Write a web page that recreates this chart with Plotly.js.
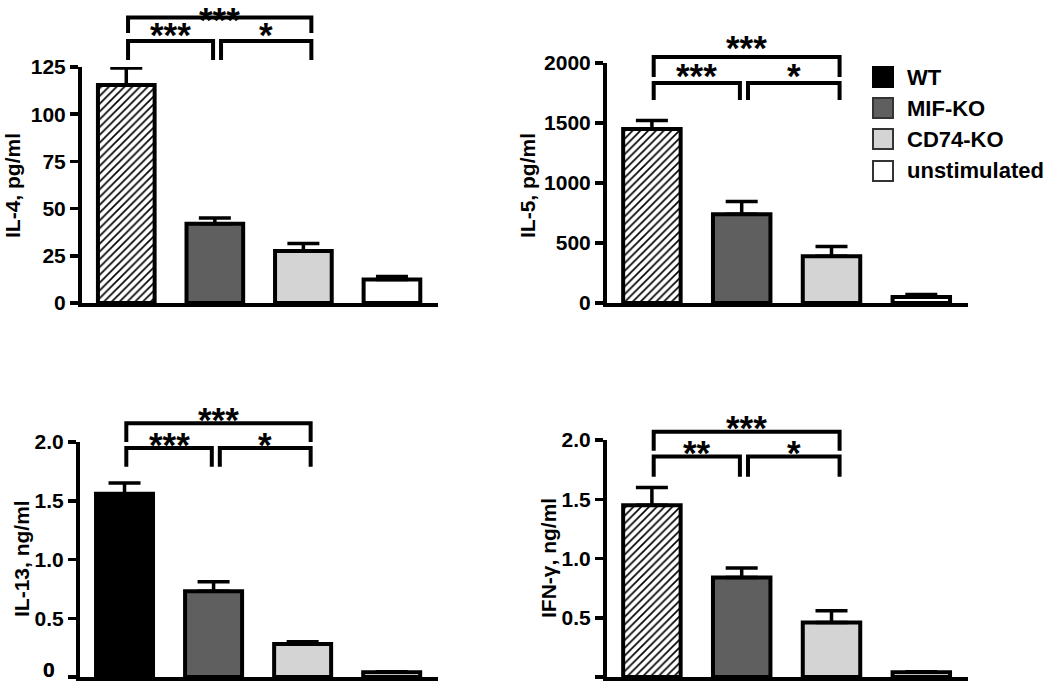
<!DOCTYPE html>
<html><head><meta charset="utf-8">
<script src="https://cdn.plot.ly/plotly-3.0.1.min.js"></script>
<style>html,body{margin:0;padding:0;background:#fff}#chart{width:1050px;height:681px}</style>
</head><body><div id="chart"></div>
<script>
// ---------- data ----------
const groups = ['WT', 'MIF-KO', 'CD74-KO', 'unstimulated'];
const groupColors = ['#000000', '#5f5f5f', '#d4d4d4', '#ffffff'];

const il4Values  = [115.5, 42, 27.5, 12.5];
const il4Errors  = [9, 3, 4, 1.5];
const il5Values  = [1450, 740, 390, 50];
const il5Errors  = [70, 105, 80, 20];
const il13Values = [1.56, 0.73, 0.28, 0.04];
const il13Errors = [0.09, 0.08, 0.02, 0.005];
const ifngValues = [1.45, 0.84, 0.46, 0.04];
const ifngErrors = [0.15, 0.08, 0.10, 0.005];

// significance: [WT vs CD74-KO, WT vs MIF-KO, MIF-KO vs CD74-KO]
const il4Sig  = ['***', '***', '*'];
const il5Sig  = ['***', '***', '*'];
const il13Sig = ['***', '***', '*'];
const ifngSig = ['***', '**', '*'];

const il4Ticks  = [0, 25, 50, 75, 100, 125];
const il5Ticks  = [0, 500, 1000, 1500, 2000];
const ngTicks   = [0, 0.5, 1.0, 1.5, 2.0];
const ngTickText = ['', '0.5', '1.0', '1.5', '2.0'];

// ---------- layout helpers ----------
const W = 1050, H = 681;
const FONT = 'Liberation Sans, Arial, sans-serif';
const XR = [-0.5, 3.52];
const py = p => 1 - p / H;   // pixel row -> paper
const pxp = p => p / W;       // pixel col -> paper

const panels = [
  {title: 'IL-4, pg/ml', values: il4Values, errors: il4Errors, sig: il4Sig, hatch: true,
   xdom: [pxp(82), pxp(438)], ydom: [py(303), py(67)], yr: [0, 125],
   tickvals: il4Ticks, ticktext: il4Ticks.map(String),
   br: {top: 151.2, topLeg: 143, low: 138.8, lowLeg: 128.7, starTop: 154.4, starLow: 146.5},
   titlePos: [12, 186]},
  {title: 'IL-5, pg/ml', values: il5Values, errors: il5Errors, sig: il5Sig, hatch: true,
   xdom: [pxp(607), pxp(968)], ydom: [py(303), py(63)], yr: [0, 2000],
   tickvals: il5Ticks, ticktext: il5Ticks.map(String),
   br: {top: 2050, topLeg: 1883, low: 1833, lowLeg: 1692, starTop: 2195, starLow: 1960},
   titlePos: [527, 186]},
  {title: 'IL-13, ng/ml', values: il13Values, errors: il13Errors, sig: il13Sig, hatch: false,
   xdom: [pxp(80), pxp(438)], ydom: [py(677), py(442)], yr: [0, 2],
   tickvals: ngTicks, ticktext: ngTickText, zeroLabel: 669,
   br: {top: 2.16, topLeg: 2.00, low: 1.95, lowLeg: 1.79, starTop: 2.26, starLow: 2.05},
   titlePos: [21, 559]},
  {title: 'IFN-γ, ng/ml', values: ifngValues, errors: ifngErrors, sig: ifngSig, hatch: true,
   xdom: [pxp(607), pxp(968)], ydom: [py(677), py(440)], yr: [0, 2],
   tickvals: ngTicks, ticktext: ngTickText, zeroLabel: 669,
   br: {top: 2.07, topLeg: 1.91, low: 1.86, lowLeg: 1.69, starTop: 2.17, starLow: 1.96},
   titlePos: [548, 558]}
];
const brX = [0.02, 0.98, 1.07, 2.09];

const traces = [];
const layout = {
  width: W, height: H, margin: {l: 0, r: 0, t: 0, b: 0},
  paper_bgcolor: '#fff', plot_bgcolor: 'rgba(0,0,0,0)',
  showlegend: false, shapes: [], annotations: [],
  font: {family: FONT, color: '#000'}
};

panels.forEach((p, i) => {
  const sfx = i === 0 ? '' : String(i + 1);
  const toPX = x => p.xdom[0] + (x - XR[0]) / (XR[1] - XR[0]) * (p.xdom[1] - p.xdom[0]);
  const toPY = y => p.ydom[0] + (y - p.yr[0]) / (p.yr[1] - p.yr[0]) * (p.ydom[1] - p.ydom[0]);

  traces.push({
    type: 'bar', x: groups.map((g, k) => k), y: p.values, width: 0.64,
    xaxis: 'x' + sfx, yaxis: 'y' + sfx, name: p.title, hoverinfo: 'skip',
    marker: {
      color: groupColors, line: {color: '#000', width: 4},
      pattern: {shape: groups.map((g, k) => (p.hatch && k === 0) ? '/' : ''),
                fgcolor: '#333333', bgcolor: '#ffffff', size: 5.5, solidity: 0.3}
    },
    error_y: {type: 'data', symmetric: false, array: p.errors, arrayminus: p.errors.map(() => 0),
              color: '#000', thickness: 3.5, width: 16}
  });

  layout['xaxis' + sfx] = {
    domain: p.xdom, range: XR, anchor: 'y' + sfx, showline: true, linewidth: 4, linecolor: '#000',
    showticklabels: false, ticks: '', showgrid: false, zeroline: false, fixedrange: true
  };
  layout['yaxis' + sfx] = {
    domain: p.ydom, range: p.yr, anchor: 'x' + sfx, showline: true, linewidth: 4, linecolor: '#000',
    ticks: 'outside', ticklen: 8, tickwidth: 3.5, tickcolor: '#000',
    tickmode: 'array', tickvals: p.tickvals, ticktext: p.ticktext,
    tickfont: {family: FONT, size: 21, color: '#000', weight: 'bold'},
    showgrid: false, zeroline: false, fixedrange: true
  };

  // brackets
  const b = p.br;
  const line = {color: '#000', width: 4};
  const path = pts => 'M' + pts.map(q => toPX(q[0]) + ',' + toPY(q[1])).join(' L');
  layout.shapes.push({type: 'path', xref: 'paper', yref: 'paper', line,
    path: path([[brX[0], b.topLeg], [brX[0], b.top], [brX[3], b.top], [brX[3], b.topLeg]])});
  layout.shapes.push({type: 'path', xref: 'paper', yref: 'paper', line,
    path: path([[brX[0], b.lowLeg], [brX[0], b.low], [brX[1], b.low], [brX[1], b.lowLeg]])});
  layout.shapes.push({type: 'path', xref: 'paper', yref: 'paper', line,
    path: path([[brX[2], b.lowLeg], [brX[2], b.low], [brX[3], b.low], [brX[3], b.lowLeg]])});

  const star = (txt, x, y) => layout.annotations.push({
    text: txt, x: toPX(x), y: toPY(y), xref: 'paper', yref: 'paper', showarrow: false,
    xanchor: 'center', yanchor: 'middle', yshift: -8,
    font: {family: FONT, size: 35, color: '#000', weight: 'bold'}
  });
  star(p.sig[0], (brX[0] + brX[3]) / 2, b.starTop);
  star(p.sig[1], (brX[0] + brX[1]) / 2, b.starLow);
  star(p.sig[2], (brX[2] + brX[3]) / 2, b.starLow);

  // y-axis title
  layout.annotations.push({
    text: p.title, x: pxp(p.titlePos[0]), y: py(p.titlePos[1]), xref: 'paper', yref: 'paper',
    textangle: -90, showarrow: false, xanchor: 'center', yanchor: 'middle',
    font: {family: FONT, size: 21, color: '#000', weight: 'bold'}
  });
  if (p.zeroLabel) {
    layout.annotations.push({
      text: '0', x: pxp(41), y: py(p.zeroLabel), xref: 'paper', yref: 'paper',
      showarrow: false, xanchor: 'left', yanchor: 'middle',
      font: {family: FONT, size: 21, color: '#000', weight: 'bold'}
    });
  }
});

// legend (custom, square swatches)
const legendRows = [77, 108, 139, 171];
groups.forEach((g, k) => {
  layout.shapes.push({type: 'rect', xref: 'paper', yref: 'paper',
    x0: pxp(873), x1: pxp(893), y0: py(legendRows[k] + 10), y1: py(legendRows[k] - 10),
    fillcolor: groupColors[k], line: {color: k === 0 ? '#000' : '#333', width: 2}});
  layout.annotations.push({text: g, x: pxp(905), y: py(legendRows[k]), xref: 'paper', yref: 'paper',
    showarrow: false, xanchor: 'left', yanchor: 'middle',
    font: {family: FONT, size: 22, color: '#000', weight: 'bold'}});
});

Plotly.newPlot('chart', traces, layout, {staticPlot: true, displayModeBar: false});
</script>
</body></html>
